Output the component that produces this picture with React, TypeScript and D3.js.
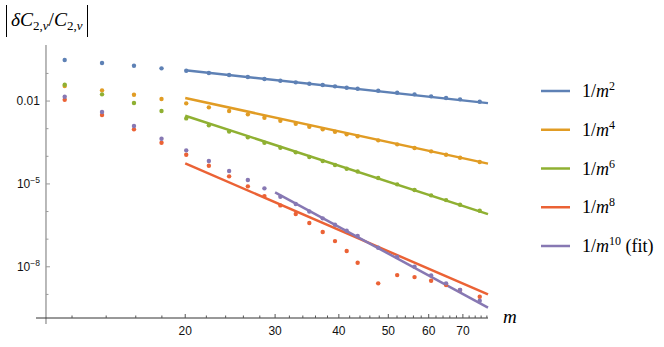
import React from 'react';
import * as d3 from 'd3';

// sample positions m
const mValues = [
  11.61, 13.74, 15.87, 17.97, 20.09, 22.25, 24.38, 26.53, 28.59, 30.72, 32.93, 35.01,
  37.19, 39.31, 41.44, 43.54, 47.77, 52.04, 56.28, 60.65, 64.89, 69.11, 75.53,
];

// |dC/C| per series
const seriesM2 = [
  0.305, 0.2376, 0.1897, 0.1527, 0.125, 0.1032, 0.0874, 0.0739, 0.0626, 0.0543, 0.0475, 0.0423,
  0.038, 0.0341, 0.0303, 0.0279, 0.0236, 0.02, 0.0175, 0.0148, 0.01284, 0.01152, 0.00943,
];
const seriesM4 = [
  0.0349, 0.0244, 0.0169, 0.01181, 0.00826, 0.00591, 0.00434, 0.0033, 0.00249, 0.00194, 0.00151,
  0.00117, 0.000945, 0.000773, 0.000623, 0.000532, 0.000378, 0.000271, 0.000199, 0.000151,
  0.0001137, 0.0000885, 0.0000619,
];
const seriesM6 = [
  0.0389, 0.0175, 0.00846, 0.00434, 0.00236, 0.00132, 0.000786, 0.000485, 0.000309, 0.000204,
  0.000139, 0.0000939, 0.0000672, 0.0000482, 0.0000354, 0.000028, 0.0000163, 0.00000964,
  0.00000599, 0.00000385, 0.0000026, 0.00000176, 0.00000107,
];
const seriesM8 = [
  0.01114, 0.00311, 0.000945, 0.000309, 0.0001137, 0.0000454, 0.0000188, 0.00000816, 0.00000363,
  0.00000167, 8.1e-7, 3.83e-7, 1.81e-7, 8.53e-8, 3.71e-8, 1.4e-8, 2.51e-9, 5.01e-9, 4.24e-9,
  3.12e-9, 2.18e-9, 1.44e-9, 8.21e-10,
];
const seriesM10 = [
  0.01431, 0.004, 0.001244, 0.000432, 0.000164, 0.0000672, 0.0000292, 0.0000138, 0.00000691,
  0.00000343, 0.00000187, 0.00000101, 5.66e-7, 3.32e-7, 2.01e-7, 1.3e-7, 4.88e-8, 2.25e-8, 1e-8,
  4.89e-9, 2.51e-9, 1.44e-9, 5.88e-10,
];

// reference power laws A/m^p, given by value at the start point
const fitPowers = [2, 4, 6, 8, 10];
const fitStartM = [20, 20, 20, 20, 30];
const fitStartValue = [0.1293, 0.01284, 0.002936, 5.55e-5, 4.95e-6];
const fitEndM = 78.4;

const legendExps = ['2', '4', '6', '8', '10'];
const legendSuffix = ['', '', '', '', ' (fit)'];
const colors = ['#5E81B5', '#E19C24', '#8FB032', '#EB6235', '#8778B3'];

const xMajorTicks = [20, 30, 40, 50, 60, 70];
const yMajorTicks = [1e-2, 1e-5, 1e-8];
const yMajorExp = [null, '5', '8'];
const yMinorTicks = [1e-1, 1e-3, 1e-4, 1e-6, 1e-7, 1e-9];

const width = 664;
const height = 347;

export default function App() {
  const x = d3.scaleLog().domain([10.2, fitEndM]).range([36, 488]);
  const y = d3.scaleLog().domain([1.4e-10, 1.07]).range([318, 45]);
  const yAxisX = x(10.67);
  const xAxisY = y(1.4e-10);

  const series = [seriesM2, seriesM4, seriesM6, seriesM8, seriesM10];
  const xMinor = d3.range(12, 79, 2).filter((d) => !xMajorTicks.includes(d));

  // power law is straight on log-log, so two end points are enough
  const fitPath = (k: number) => {
    const f = (m: number) => fitStartValue[k] * Math.pow(fitStartM[k] / m, fitPowers[k]);
    return d3
      .line<number>()
      .x((m) => x(m))
      .y((m) => y(f(m)))([fitStartM[k], fitEndM]) as string;
  };

  const serif = '"Liberation Serif", "Times New Roman", serif';
  const sans = '"Liberation Sans", Arial, sans-serif';

  return (
    <svg
      width={width}
      height={height}
      style={{ position: 'absolute', left: 0, top: 0, background: '#fff' }}
    >
      {/* y label */}
      <g fontFamily={serif}>
        <line x1={6.5} x2={6.5} y1={5} y2={37} stroke="#000" strokeWidth={1} />
        <line x1={87.5} x2={87.5} y1={5} y2={37} stroke="#000" strokeWidth={1} />
        <text x={11} y={26} fontSize={19.5}>
          <tspan fontStyle="italic">δC</tspan>
          <tspan fontSize={13} dy={4}>2,</tspan>
          <tspan fontSize={13} fontStyle="italic">ν</tspan>
          <tspan dy={-4}>/</tspan>
          <tspan fontStyle="italic">C</tspan>
          <tspan fontSize={13} dy={4}>2,</tspan>
          <tspan fontSize={13} fontStyle="italic">ν</tspan>
        </text>
      </g>

      {/* axes */}
      <line x1={yAxisX} x2={yAxisX} y1={45} y2={xAxisY + 6} stroke="#8a8a8a" strokeWidth={1.2} />
      <line x1={36} x2={488} y1={xAxisY} y2={xAxisY} stroke="#333" strokeWidth={1} />

      {yMinorTicks.map((t) => (
        <line key={'ym' + t} x1={yAxisX} x2={yAxisX + 2.5} y1={y(t)} y2={y(t)} stroke="#999" />
      ))}
      {yMajorTicks.map((t, i) => (
        <g key={'yM' + t}>
          <line x1={yAxisX} x2={yAxisX + 4} y1={y(t)} y2={y(t)} stroke="#999" />
          <text
            x={yAxisX - 6}
            y={y(t) + 4}
            textAnchor="end"
            fontFamily={sans}
            fontSize={12}
            fill="#111"
          >
            {yMajorExp[i] === null ? (
              '0.01'
            ) : (
              <>
                <tspan>10</tspan>
                <tspan fontSize={8.5} dy={-5}>
                  {'\u2212' + yMajorExp[i]}
                </tspan>
              </>
            )}
          </text>
        </g>
      ))}

      {xMinor.map((t) => (
        <line key={'xm' + t} x1={x(t)} x2={x(t)} y1={xAxisY} y2={xAxisY - 2.5} stroke="#555" />
      ))}
      {xMajorTicks.map((t) => (
        <g key={'xM' + t}>
          <line x1={x(t)} x2={x(t)} y1={xAxisY} y2={xAxisY - 4} stroke="#555" />
          <text x={x(t)} y={xAxisY + 17} textAnchor="middle" fontFamily={sans} fontSize={12} fill="#111">
            {t}
          </text>
        </g>
      ))}
      <text x={503} y={323} fontFamily={serif} fontStyle="italic" fontSize={19}>
        m
      </text>

      {/* fit lines */}
      {fitPowers.map((p, k) => (
        <path key={'fit' + p} d={fitPath(k)} fill="none" stroke={colors[k]} strokeWidth={2.5} />
      ))}

      {/* data points */}
      {series.map((s, k) => (
        <g key={'pts' + k} fill={colors[k]}>
          {s.map((v, i) => (
            <circle key={i} cx={x(mValues[i])} cy={y(v)} r={2.2} />
          ))}
        </g>
      ))}

      {/* legend */}
      {legendExps.map((e, k) => {
        const ly = 91 + k * 38.75;
        return (
          <g key={'lg' + k}>
            <line x1={541} x2={570} y1={ly} y2={ly} stroke={colors[k]} strokeWidth={2.5} />
            <text x={582} y={ly + 6} fontFamily={serif} fontSize={18}>
              <tspan>1/</tspan>
              <tspan fontStyle="italic">m</tspan>
              <tspan fontSize={12} dy={-7}>
                {e}
              </tspan>
              {legendSuffix[k] ? <tspan dy={7}>{legendSuffix[k]}</tspan> : null}
            </text>
          </g>
        );
      })}
    </svg>
  );
}
